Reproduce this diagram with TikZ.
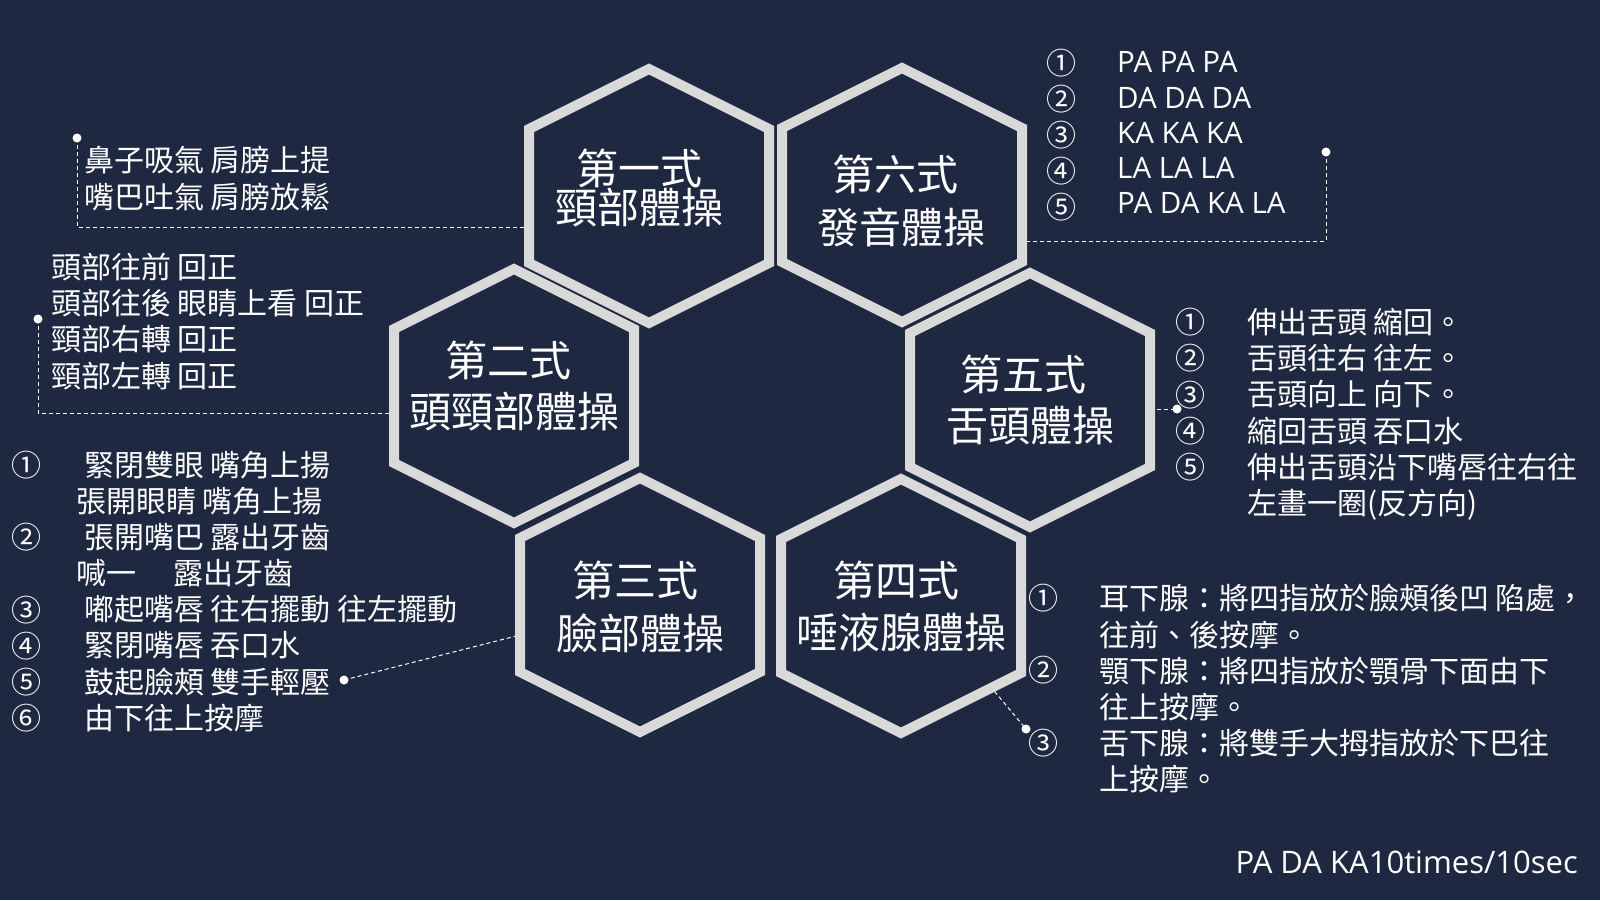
\documentclass[tikz,border=0pt]{standalone}
\usepackage{fontspec}
\setmainfont{Noto Sans CJK TC}
\newfontfamily\latinfam{Open Sans}
\definecolor{bg}{HTML}{1E2841}
\definecolor{hexgray}{HTML}{D9D9D9}
\begin{document}
\begin{tikzpicture}[x=1pt,y=-1pt,
  hexline/.style={draw=hexgray,line width=10pt,line join=miter,fill=bg},
  hextitle/.style={text=white,font=\fontsize{42}{50}\selectfont,inner sep=0pt,anchor=center},
  bodytext/.style={text=white,font=\fontsize{30}{36}\selectfont,inner sep=0pt},
  numcol/.style={bodytext,anchor=north},
  txtcol/.style={bodytext,anchor=north west},
  conn/.style={draw=white,line width=1pt,dash pattern=on 4pt off 3pt},
  dotnode/.style={circle,fill=white,draw=none,inner sep=0pt,minimum size=9pt},
  hexa/.pic={\path[hexline] (0,-127) -- (120,-67) -- (120,67) -- (0,127) -- (-120,67) -- (-120,-67) -- cycle;}
]
\fill[bg] (0,0) rectangle (1600,900);
\useasboundingbox (0,0) rectangle (1600,900);

% connector end points on hexagon edges
\coordinate (h1e) at (529,227);
\coordinate (h2e) at (394,413);
\coordinate (h3e) at (520,635);
\coordinate (h4e) at (990,686);
\coordinate (h5e) at (1150,409);
\coordinate (h6e) at (1022,241);

% dots
\node[dotnode] (dA) at (77,138) {};
\node[dotnode] (dB) at (38,319) {};
\node[dotnode] (dC) at (344,680) {};
\node[dotnode] (dD) at (1326,152) {};
\node[dotnode] (dE) at (1177,409) {};
\node[dotnode] (dF) at (1026,729) {};

% connectors
\draw[conn] (dA.center) |- (h1e);
\draw[conn] (dB.center) |- (h2e);
\draw[conn] (dC.center) -- (h3e);
\draw[conn] (dD.center) |- (h6e);
\draw[conn] (h5e) -- (dE.center);
\draw[conn] (h4e) -- (dF.center);

% hexagons
\pic at (649,196) {hexa};
\pic at (902,195) {hexa};
\pic at (514,396) {hexa};
\pic at (1030,400) {hexa};
\pic at (640,605) {hexa};
\pic at (901,606) {hexa};

% titles
\node[hextitle] (t1a) at (639,168) {第一式};
\node[hextitle] (t1b) at (639,208) {頸部體操};
\node[hextitle] (t6a) at (895,174) {第六式};
\node[hextitle] (t6b) at (901,227) {發音體操};
\node[hextitle] (t2a) at (508,360) {第二式};
\node[hextitle] (t2b) at (514,412) {頭頸部體操};
\node[hextitle] (t5a) at (1023,374) {第五式};
\node[hextitle] (t5b) at (1030,426) {舌頭體操};
\node[hextitle] (t3a) at (635,580) {第三式};
\node[hextitle] (t3b) at (640,633) {臉部體操};
\node[hextitle] (t4a) at (896,580) {第四式};
\node[hextitle] (t4b) at (901,633) {唾液腺體操};

% block A
\node[txtcol] (tA) at (84,146.2) {\begin{tabular}{@{}l@{}}
鼻子吸氣 肩膀上提\\
嘴巴吐氣 肩膀放鬆
\end{tabular}};

% block B
\node[txtcol] (tB) at (51,253.2) {\begin{tabular}{@{}l@{}}
頭部往前 回正\\
頭部往後 眼睛上看 回正\\
頸部右轉 回正\\
頸部左轉 回正
\end{tabular}};

% block C
\node[numcol] (nC) at (27,451.2) {\begin{tabular}{@{}c@{}}
①\\ \\ ②\\ \\ ③\\ ④\\ ⑤\\ ⑥
\end{tabular}};
\node[txtcol] (tC) at (84,451.2) {\begin{tabular}{@{}l@{}}
緊閉雙眼 嘴角上揚\\
\hspace*{-8pt}張開眼睛 嘴角上揚\\
張開嘴巴 露出牙齒\\
\hspace*{-8pt}喊一\hspace*{37pt}露出牙齒\\
嘟起嘴唇 往右擺動 往左擺動\\
緊閉嘴唇 吞口水\\
鼓起臉頰 雙手輕壓\\
由下往上按摩
\end{tabular}};

% block D
\node[numcol,font=\fontsize{30}{35.3}\selectfont] (nD) at (1061,48.7) {\begin{tabular}{@{}c@{}}
①\\ ②\\ ③\\ ④\\ ⑤
\end{tabular}};
\node[txtcol,font=\latinfam\fontsize{29.5}{35.3}\selectfont] (tD) at (1117,47.8) {\begin{tabular}{@{}l@{}}
PA PA PA\\
DA DA DA\\
KA KA KA\\
LA LA LA\\
PA DA KA LA
\end{tabular}};

% block E
\node[numcol] (nE) at (1190,308.2) {\begin{tabular}{@{}c@{}}
①\\ ②\\ ③\\ ④\\ ⑤\\ 
\end{tabular}};
\node[txtcol] (tE) at (1247,308.2) {\begin{tabular}{@{}l@{}}
伸出舌頭 縮回。\\
舌頭往右 往左。\\
舌頭向上 向下。\\
縮回舌頭 吞口水\\
伸出舌頭沿下嘴唇往右往\\
左畫一圈(反方向)
\end{tabular}};

% block F
\node[numcol] (nF) at (1043,584.2) {\begin{tabular}{@{}c@{}}
①\\ \\ ②\\ \\ ③\\ 
\end{tabular}};
\node[txtcol] (tF) at (1099,584.2) {\begin{tabular}{@{}l@{}}
耳下腺：將四指放於臉頰後凹 陷處，\\
往前、後按摩。\\
顎下腺：將四指放於顎骨下面由下\\
往上按摩。\\
舌下腺：將雙手大拇指放於下巴往\\
上按摩。
\end{tabular}};

% footer
\node[text=white,font=\latinfam\fontsize{31}{36}\selectfont,inner sep=0pt,anchor=base east] (foot) at (1578,873) {PA DA KA10times/10sec};
\end{tikzpicture}
\end{document}
